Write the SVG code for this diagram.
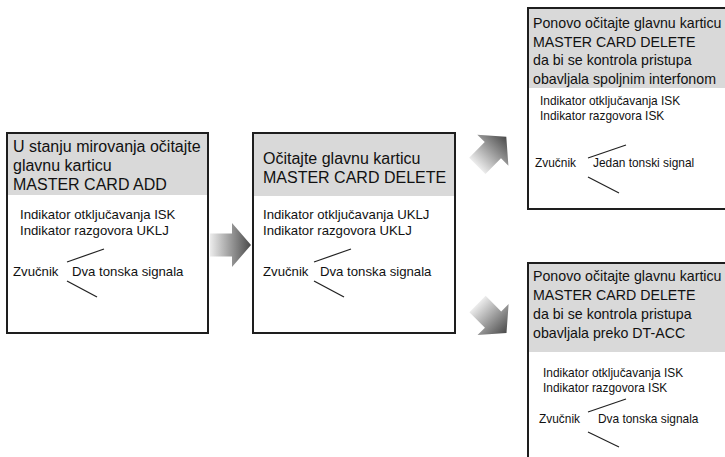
<svg xmlns="http://www.w3.org/2000/svg" width="725" height="457" viewBox="0 0 725 457">
<style>
.box{fill:#fff;stroke:#1e1e1e;stroke-width:2}
.hdr{fill:#d9d9d9}
.h{font-family:"Liberation Sans",Arial,sans-serif;font-size:16px;fill:#111}
.h2{font-family:"Liberation Sans",Arial,sans-serif;font-size:14.2px;fill:#111}
.b{font-family:"Liberation Sans",Arial,sans-serif;font-size:13.2px;fill:#111}
.b2{font-family:"Liberation Sans",Arial,sans-serif;font-size:11.9px;fill:#111}
.ln{stroke:#222;stroke-width:1.2;fill:none}
</style>
<defs>
<linearGradient id="g" x1="0" y1="0" x2="1" y2="0">
<stop offset="0" stop-color="#ececec"/>
<stop offset="1" stop-color="#4a4a4a"/>
</linearGradient>
<path id="arr" d="M-20.5,-11.5 L1.5,-11.5 L1.5,-22 L20.5,0 L1.5,22 L1.5,11.5 L-20.5,11.5 Z" fill="url(#g)"/>
</defs>
<g id="connectors">
<use href="#arr" transform="translate(230.5,245)"/>
<use href="#arr" transform="translate(491.8,151.3) rotate(-45)"/>
<use href="#arr" transform="translate(492,318.5) rotate(45)"/>
</g>
<g id="node1">
<rect class="box" x="7" y="133" width="201" height="200"/>
<rect class="hdr" x="8" y="134" width="199" height="61"/>
<text class="h" x="13" y="152">U stanju mirovanja očitajte</text>
<text class="h" x="13" y="171">glavnu karticu</text>
<text class="h" x="13" y="190">MASTER CARD ADD</text>
<text class="b" x="20" y="219">Indikator otključavanja ISK</text>
<text class="b" x="20" y="235">Indikator razgovora UKLJ</text>
<text class="b" x="13" y="276">Zvučnik</text>
<text class="b" x="72" y="276">Dva tonska signala</text>
<line class="ln" x1="67" y1="262" x2="104" y2="249"/>
<line class="ln" x1="67" y1="281" x2="97" y2="297"/>
</g>
<g id="node2">
<rect class="box" x="253" y="133" width="202" height="200"/>
<rect class="hdr" x="254" y="134" width="200" height="62"/>
<text class="h" x="263" y="164">Očitajte glavnu karticu</text>
<text class="h" x="263" y="183">MASTER CARD DELETE</text>
<text class="b" x="263" y="219">Indikator otključavanja UKLJ</text>
<text class="b" x="263" y="235">Indikator razgovora UKLJ</text>
<text class="b" x="263" y="276">Zvučnik</text>
<text class="b" x="320" y="276">Dva tonska signala</text>
<line class="ln" x1="314" y1="262" x2="351" y2="249"/>
<line class="ln" x1="314" y1="281" x2="344" y2="297"/>
</g>
<g id="node3">
<rect class="box" x="528" y="8" width="210" height="201"/>
<rect class="hdr" x="529" y="9" width="200" height="79"/>
<text class="h2" x="533" y="28">Ponovo očitajte glavnu karticu</text>
<text class="h2" x="533" y="47">MASTER CARD DELETE</text>
<text class="h2" x="533" y="65">da bi se kontrola pristupa</text>
<text class="h2" x="533" y="84">obavljala spoljnim interfonom</text>
<text class="b2" x="540" y="105">Indikator otključavanja ISK</text>
<text class="b2" x="540" y="120">Indikator razgovora ISK</text>
<text class="b2" x="535" y="167">Zvučnik</text>
<text class="b2" x="593" y="167">Jedan tonski signal</text>
<line class="ln" x1="588" y1="158" x2="626" y2="145"/>
<line class="ln" x1="588" y1="177" x2="619" y2="193"/>
</g>
<g id="node4">
<rect class="box" x="528" y="263" width="210" height="210"/>
<rect class="hdr" x="529" y="264" width="200" height="88"/>
<text class="h2" x="533" y="281">Ponovo očitajte glavnu karticu</text>
<text class="h2" x="533" y="300">MASTER CARD DELETE</text>
<text class="h2" x="533" y="319">da bi se kontrola pristupa</text>
<text class="h2" x="533" y="338">obavljala preko DT-ACC</text>
<text class="b2" x="543" y="377">Indikator otključavanja ISK</text>
<text class="b2" x="543" y="392">Indikator razgovora ISK</text>
<text class="b2" x="539" y="423">Zvučnik</text>
<text class="b2" x="598" y="423">Dva tonska signala</text>
<line class="ln" x1="588" y1="412" x2="626" y2="399"/>
<line class="ln" x1="588" y1="432" x2="619" y2="447"/>
</g>
</svg>
